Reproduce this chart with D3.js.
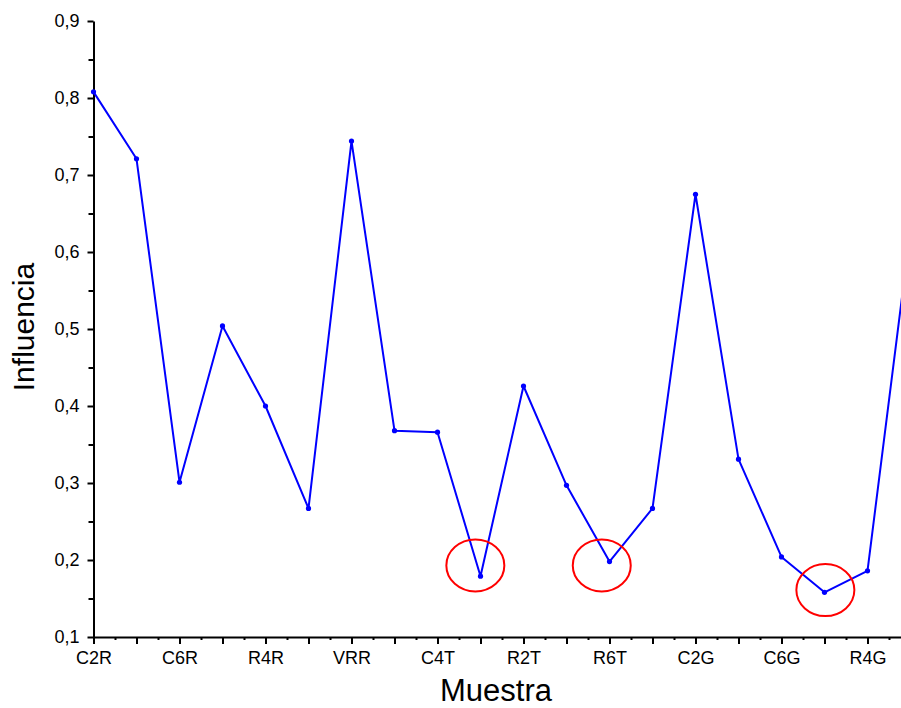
<!DOCTYPE html>
<html>
<head>
<meta charset="utf-8">
<script src="https://cdn.jsdelivr.net/npm/d3@7/dist/d3.min.js"></script>
<style>
  html, body { margin: 0; padding: 0; background: #fff; overflow: hidden; }
  svg { display: block; }
  text { font-family: Arial, "Liberation Sans", sans-serif; fill: #000; }
</style>
</head>
<body>
<svg id="chart" width="901" height="708"></svg>
<script>
// Samples along the x axis (only every other one carries a label)
const categories = [
  "C2R", "C4R", "C6R", "R2R", "R4R", "R6R", "VRR",
  "C2T", "C4T", "C6T", "R2T", "R4T", "R6T", "VRT",
  "C2G", "C4G", "C6G", "R2G", "R4G", "R6G"
];

// Influence value for each sample
const influencia = [
  0.808, 0.721, 0.301, 0.504, 0.400, 0.267, 0.744,
  0.368, 0.366, 0.179, 0.426, 0.297, 0.198, 0.267,
  0.675, 0.331, 0.204, 0.158, 0.186, 0.629
];

// Y axis ticks
const yTicks = [0.1, 0.2, 0.3, 0.4, 0.5, 0.6, 0.7, 0.8, 0.9];
const yMinorTicks = [0.15, 0.25, 0.35, 0.45, 0.55, 0.65, 0.75, 0.85];

// Highlighted low points (centre given as sample position and value)
const highlightPos = [8.88, 11.82, 17.02];
const highlightVal = [0.193, 0.193, 0.161];

const svg = d3.select("#chart");

const x = d3.scaleLinear().domain([0, categories.length - 1]).range([93.5, 93.5 + 43 * (categories.length - 1)]);
const y = d3.scaleLinear().domain([0.1, 0.9]).range([637, 21]);

const fmt = d => d3.format(".1f")(d).replace(".", ",");

// Y axis
svg.append("g").attr("transform", `translate(${x(0)},0)`)
  .call(d3.axisLeft(y).tickValues(yTicks).tickFormat(fmt).tickSize(6).tickSizeOuter(0).tickPadding(8));
svg.append("g").attr("transform", `translate(${x(0)},0)`)
  .call(d3.axisLeft(y).tickValues(yMinorTicks).tickFormat("").tickSize(5).tickSizeOuter(0))
  .call(g => g.select(".domain").remove());

// X axis
svg.append("g").attr("transform", `translate(0,${y(0.1)})`)
  .call(d3.axisBottom(x).tickValues(d3.range(categories.length))
    .tickFormat(i => i % 2 === 0 ? categories[i] : "")
    .tickSize(7).tickSizeOuter(0).tickPadding(7));
svg.append("g").attr("transform", `translate(0,${y(0.1)})`)
  .call(d3.axisBottom(x).tickValues(d3.range(categories.length - 1).map(i => i + 0.5))
    .tickFormat("").tickSize(3).tickSizeOuter(0))
  .call(g => g.select(".domain").remove());

svg.selectAll(".domain").attr("stroke", "#000").attr("stroke-width", 2);
svg.selectAll(".tick line").attr("stroke", "#000").attr("stroke-width", 2);
svg.selectAll(".tick text").attr("font-size", 18).attr("fill", "#000")
  .style("font-family", "Arial, 'Liberation Sans', sans-serif");

// Axis titles
svg.append("text")
  .attr("transform", "translate(34,327) rotate(-90)")
  .attr("text-anchor", "middle")
  .attr("font-size", 30)
  .text("Influencia");

svg.append("text")
  .attr("x", 496).attr("y", 701)
  .attr("text-anchor", "middle")
  .attr("font-size", 31)
  .text("Muestra");

// Data line and markers
const line = d3.line().x((d, i) => x(i)).y(d => y(d));
svg.append("path")
  .datum(influencia)
  .attr("fill", "none")
  .attr("stroke", "#0000ff")
  .attr("stroke-width", 2)
  .attr("stroke-linejoin", "round")
  .attr("d", line);

svg.append("g").selectAll("circle")
  .data(influencia)
  .join("circle")
  .attr("cx", (d, i) => x(i))
  .attr("cy", d => y(d))
  .attr("r", 2.6)
  .attr("fill", "#0000ff");

// Red ellipses around the lowest samples
svg.append("g").selectAll("ellipse")
  .data(highlightPos)
  .join("ellipse")
  .attr("cx", d => x(d))
  .attr("cy", (d, i) => y(highlightVal[i]))
  .attr("rx", 29)
  .attr("ry", 26)
  .attr("fill", "none")
  .attr("stroke", "#ff0000")
  .attr("stroke-width", 2);
</script>
</body>
</html>
